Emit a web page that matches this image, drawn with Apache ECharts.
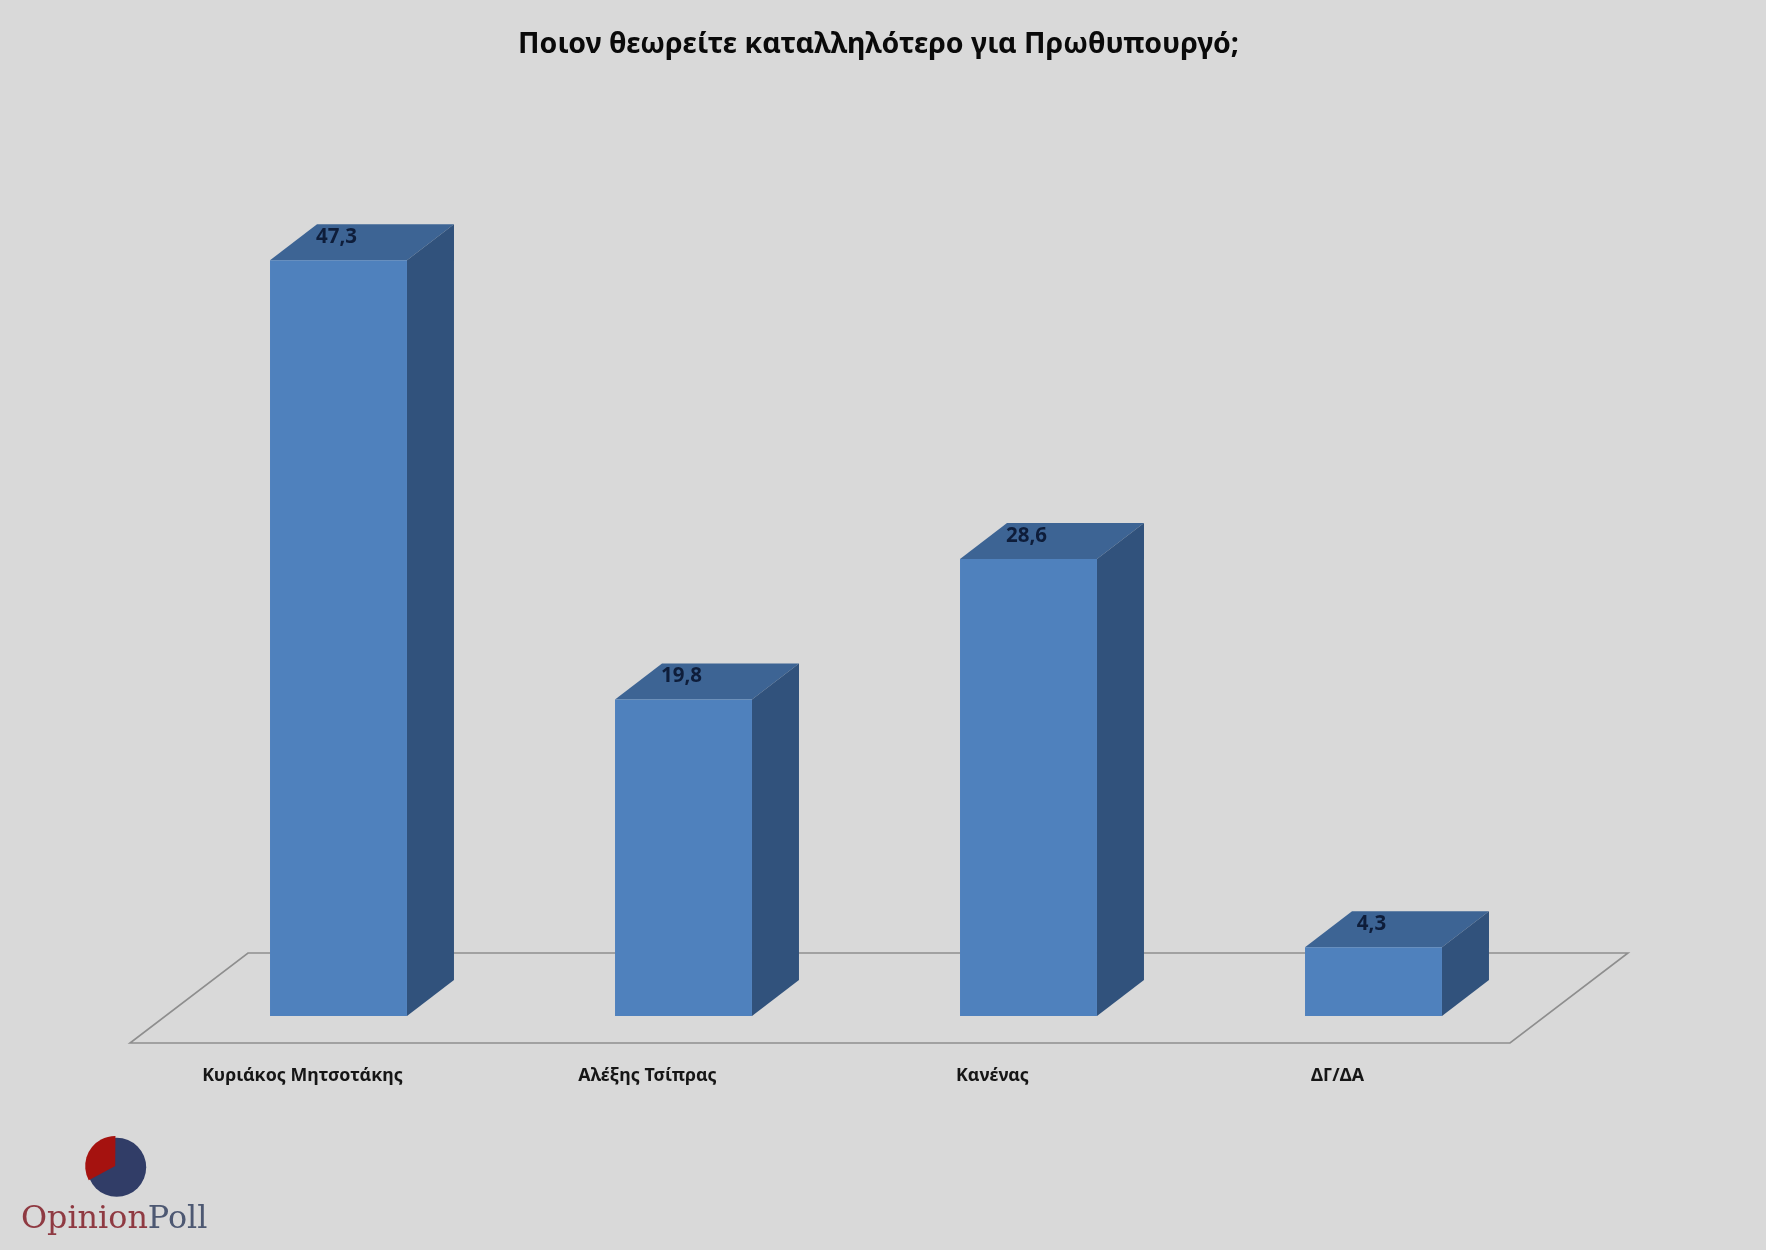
<!DOCTYPE html>
<html><head><meta charset="utf-8">
<style>html,body{margin:0;padding:0;background:#d9d9d9}#c{width:1766px;height:1250px}</style>
<script src="https://cdn.jsdelivr.net/npm/echarts@6/dist/echarts.min.js"></script>
</head><body><div id="c"></div>
<script>
const titleText = 'Ποιον θεωρείτε καταλληλότερο για Πρωθυπουργό;';
const categories = ['Κυριάκος Μητσοτάκης', 'Αλέξης Τσίπρας', 'Κανένας', 'ΔΓ/ΔΑ'];
const values = [47.3, 19.8, 28.6, 4.3];

const FRONT = '#4f81bd', TOP = '#3d6494', SIDE = '#31527c', FLOOR = '#8e8e8e';
const DX = 47, DY = 36, SHIFT = 36, BAR_RATIO = 0.397;
const FONT = '"Noto Sans", "Open Sans", sans-serif';

function renderBar(params, api) {
  const i = api.value(0), v = api.value(1);
  const top = api.coord([i, v]), base = api.coord([i, 0]);
  const w = api.size([1, 0])[0] * BAR_RATIO;
  const cx = top[0] + SHIFT, x0 = cx - w / 2, x1 = cx + w / 2, yt = top[1], yb = base[1];
  return { type: 'group', children: [
    { type: 'polygon', shape: { points: [[x0, yt], [x1, yt], [x1 + DX, yt - DY], [x0 + DX, yt - DY]] }, style: { fill: TOP } },
    { type: 'polygon', shape: { points: [[x1, yt], [x1 + DX, yt - DY], [x1 + DX, yb - DY], [x1, yb]] }, style: { fill: SIDE } },
    { type: 'rect', shape: { x: x0, y: yt, width: w, height: yb - yt }, style: { fill: FRONT } },
    { type: 'text', x: cx - 2, y: yt - 23, style: { text: String(v).replace('.', ','), fill: '#0e1d3a',
      font: 'bold 20.5px ' + FONT, align: 'center', verticalAlign: 'middle' } }
  ]};
}
function renderFloor(params, api) {
  if (params.dataIndex !== 0) return;
  const c = params.coordSys, yb = c.y + c.height;
  const f = yb + 27, b = yb - 63, l = c.x, r = c.x + c.width, s = 118;
  return { type: 'polygon', shape: { points: [[l, f], [r, f], [r + s, b], [l + s, b]] },
    style: { fill: 'none', stroke: FLOOR, lineWidth: 1.6 }, silent: true };
}

const chart = echarts.init(document.getElementById('c'));
chart.setOption({
  backgroundColor: '#d9d9d9',
  animation: false,
  title: { text: titleText, left: 873.5, top: 40, textAlign: 'center', textVerticalAlign: 'middle',
    textStyle: { fontFamily: FONT, fontWeight: 'bold', fontSize: 28.5, color: '#0a0a0a' } },
  grid: { left: 130, top: 217, width: 1380, height: 799 },
  xAxis: { type: 'category', data: categories, axisLine: { show: false }, axisTick: { show: false }, splitLine: { show: false },
    axisLabel: { margin: 51, fontFamily: FONT, fontWeight: 'bold', fontSize: 17.8, color: '#161616' } },
  yAxis: { type: 'value', min: 0, max: 50, show: false, splitLine: { show: false } },
  series: [
    { type: 'custom', renderItem: renderFloor, data: categories.map((c, i) => [i, 0]), z: 1, silent: true },
    { type: 'custom', renderItem: renderBar, data: values.map((v, i) => [i, v]), encode: { x: 0, y: 1 }, z: 2 }
  ],
  graphic: [
    { type: 'circle', shape: { cx: 116.7, cy: 1167.3, r: 29.5 }, style: { fill: '#313d67' }, z: 5 },
    { type: 'sector', shape: { cx: 115.2, cy: 1166, r: 30, r0: 0, startAngle: 2.65, endAngle: 4.72, clockwise: true }, style: { fill: '#a5120f' }, z: 6 },
    { type: 'text', x: 21, y: 1220, z: 6, style: {
        text: '{a|Opinion}{b|Poll}', verticalAlign: 'middle',
        rich: { a: { fontFamily: 'DejaVu Serif', fontSize: 31.8, fill: '#8f3a42', color: '#8f3a42' },
                b: { fontFamily: 'DejaVu Serif', fontSize: 31.8, fill: '#4d5872', color: '#4d5872' } } } }
  ]
});
</script></body></html>
